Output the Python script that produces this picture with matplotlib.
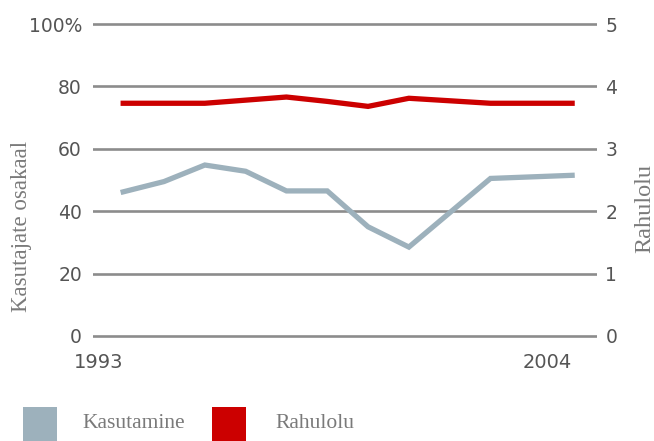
import matplotlib.pyplot as plt
from matplotlib.patches import Rectangle

years = [1993, 1994, 1995, 1996, 1997, 1998, 1999, 2000, 2001, 2002, 2003, 2004]
# share of users, %
kasutamine = [46.2, 49.5, 54.8, 52.8, 46.5, 46.5, 35.0, 28.5, 39.5, 50.5, 51.0, 51.5]
# satisfaction score, 0..5
rahulolu = [3.73, 3.73, 3.73, 3.78, 3.83, 3.76, 3.68, 3.81, 3.77, 3.73, 3.73, 3.73]

left_ticks = [0, 20, 40, 60, 80, 100]
left_labels = ["0", "20", "40", "60", "80", "100%"]
right_ticks = [0, 1, 2, 3, 4, 5]

grey = "#9db1bc"
red = "#cc0000"
grid_col = "#8c8c8c"
tick_col = "#555555"
label_col = "#7a7a7a"

W, H = 654, 441
fig = plt.figure(figsize=(W / 100, H / 100), dpi=100)
# axes box in pixels: x 93..597, y 17.8..342.2 (0 at 336, 100 at 24)
ax = fig.add_axes([93 / W, 1 - 342.2 / H, (597 - 93) / W, (342.2 - 17.8) / H])
ax2 = ax.twinx()

ax.set_xlim(1992.26, 2004.61)
ax.set_ylim(-2, 102)
ax2.set_ylim(-0.1, 5.1)

for a in (ax, ax2):
    for s in a.spines.values():
        s.set_visible(False)
    a.patch.set_visible(False)

for v in left_ticks:
    ax.axhline(v, color=grid_col, lw=1.9, zorder=1)

ax.plot(years, kasutamine, color=grey, lw=3.8, solid_joinstyle="miter", zorder=3)
ax2.plot(years, rahulolu, color=red, lw=3.8, solid_joinstyle="miter", zorder=3)

font_ticks = "DejaVu Sans"
ax.set_yticks(left_ticks)
ax.set_yticklabels(left_labels)
ax.tick_params(axis="y", length=0, pad=8, labelsize=13.5, labelcolor=tick_col)
ax2.set_yticks(right_ticks)
ax2.tick_params(axis="y", length=0, pad=6, labelsize=13.5, labelcolor=tick_col)

ax.set_xticks([1993, 2004])
ax.set_xticklabels(["1993", "2004"])
ax.tick_params(axis="x", length=0, pad=8, labelsize=14, labelcolor=tick_col)
for t in ax.get_xticklabels():
    t.set_horizontalalignment("right")
for t in ax.get_xticklabels() + ax.get_yticklabels() + ax2.get_yticklabels():
    t.set_family(font_ticks)

serif = "Liberation Serif"
fig.text(22 / W, 1 - 226 / H, "Kasutajate osakaal", rotation=90, ha="center", va="center",
         family=serif, fontsize=16.5, color=label_col)
fig.text(645 / W, 1 - 208 / H, "Rahulolu", rotation=90, ha="center", va="center",
         family=serif, fontsize=17.5, color=label_col)

# legend swatches
for x0, col, name, tx in [(23, grey, "Kasutamine", 82), (212, red, "Rahulolu", 275)]:
    fig.add_artist(Rectangle((x0 / W, 1 - 441 / H), 34 / W, 34 / H,
                             transform=fig.transFigure, color=col, lw=0))
    fig.text(tx / W, 1 - 424 / H, name, ha="left", va="center",
             family=serif, fontsize=15.5, color=label_col)

fig.savefig("out.png", dpi=100)
